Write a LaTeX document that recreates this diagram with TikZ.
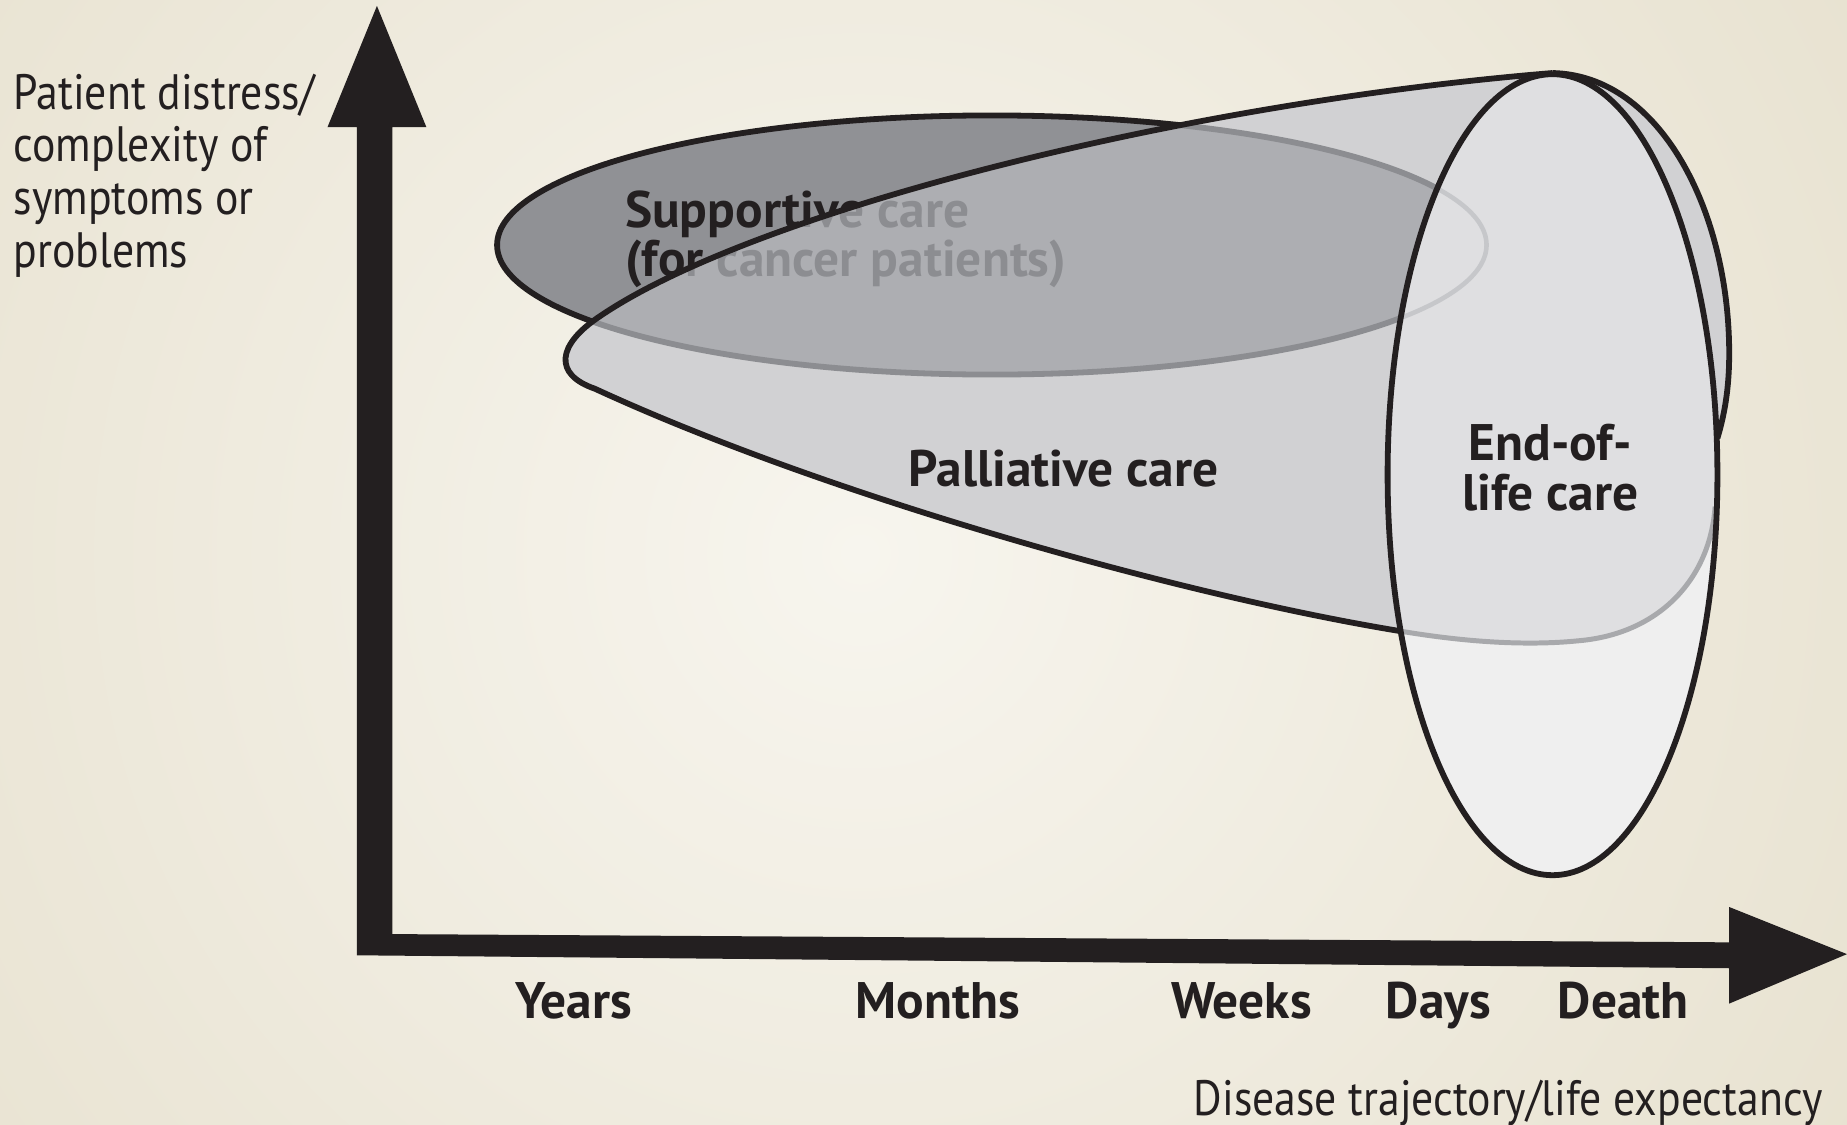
\documentclass[tikz,border=0pt]{standalone}
\usepackage{fontspec}
\setmainfont{PT Sans}
\newfontfamily\axisfont[FakeStretch=0.88]{PT Sans}
\newfontfamily\labfont{PT Sans}
\definecolor{bgedge}{HTML}{E3DCC7}
\definecolor{bgcenter}{HTML}{F7F5EE}
\definecolor{inkblack}{HTML}{231F20}
\definecolor{suppgray}{HTML}{909195}
\definecolor{suppmid}{HTML}{ADAEB2}
\definecolor{suppline}{HTML}{8C8D91}
\definecolor{palgray}{HTML}{D1D1D3}
\definecolor{eolgray}{HTML}{DFDFE1}
\definecolor{eollight}{HTML}{EFEFEF}
\definecolor{palline}{HTML}{A8A9AC}
\definecolor{supplight}{HTML}{C6C7CA}
\tikzset{
  axislab/.style={font=\axisfont\fontsize{12}{12.7}\selectfont, text=inkblack, inner sep=0pt},
  carelab/.style={font=\labfont\bfseries\fontsize{12.4}{12}\selectfont, text=inkblack, inner sep=0pt},
  rimline/.style={line width=1.4pt, draw=inkblack},
}
\newcommand{\palpath}{(1318,62) .. controls (1000,88) and (640,180) .. (510,268) .. controls (472,293) and (470,318) .. (505,330) .. controls (700,420) and (1000,505) .. (1190,536) .. controls (1250,546) and (1300,548) .. (1340,544) .. controls (1410,538) and (1452,490) .. (1456,430) -- (1456,300) .. controls (1450,150) and (1400,62) .. (1318,62) -- cycle}
\newcommand{\suppellipse}{(842,208) ellipse [x radius=420, y radius=110]}
\newcommand{\disc}{(1318,403) ellipse [x radius=140, y radius=340]}
\begin{document}
\begin{tikzpicture}[x=0.01cm, y=-0.01cm]
\useasboundingbox (0,0) rectangle (1568,955);
\fill[bgedge] (0,0) rectangle (1568,955);
\begin{scope}
\clip (0,0) rectangle (1568,955);
\shade[inner color=bgcenter, outer color=bgedge] (730,470) circle (13cm);
\end{scope}
\fill[inkblack] (303,811) -- (303,108) -- (278,108) -- (320,5) -- (362,108) -- (333,108) -- (333,793)
  -- (1468,800) -- (1468,770) -- (1568,810) -- (1468,852) -- (1468,822) -- cycle;
\fill[suppgray] \suppellipse;
\draw[rimline] \suppellipse;
\node[carelab, align=left, anchor=north west] (supp) at (530,161) {Supportive care\\(for cancer patients)};
\fill[palgray] \palpath;
\begin{scope}
\clip \palpath;
\fill[suppmid] \suppellipse;
\draw[rimline, draw=suppline] \suppellipse;
\node[carelab, text=suppline, align=left, anchor=north west] (suppb) at (530,161) {Supportive care\\(for cancer patients)};
\end{scope}
\draw[rimline] (1318,62) .. controls (1000,88) and (640,180) .. (510,268) .. controls (472,293) and (470,318) .. (505,330) .. controls (700,420) and (1000,505) .. (1190,536);
\fill[palgray] (1318,62) .. controls (1410,64) and (1468,180) .. (1468,300) .. controls (1468,330) and (1464,352) .. (1458,372) -- (1318,400) -- cycle;
\draw[rimline] (1318,62) .. controls (1410,64) and (1468,180) .. (1468,300) .. controls (1468,330) and (1464,352) .. (1458,372);
\fill[eollight] \disc;
\begin{scope}
\clip \disc;
\fill[eolgray] \palpath;
\draw[line width=1.1pt, draw=supplight] \suppellipse;
\draw[line width=1.2pt, draw=palline] (505,330) .. controls (700,420) and (1000,505) .. (1190,536) .. controls (1250,546) and (1300,548) .. (1340,544) .. controls (1410,538) and (1452,490) .. (1456,430);
\end{scope}
\draw[rimline] \disc;
\node[carelab, anchor=base] (pal) at (903,413) {Palliative care};
\node[carelab, align=center] (eol) at (1316,397) {End-of-\\life care};
\node[axislab, align=left, anchor=north west] (ylab) at (11,62) {Patient distress/\\complexity of\\symptoms or\\problems};
\node[carelab, anchor=base] (years) at (487,865) {Years};
\node[carelab, anchor=base] (months) at (796,865) {Months};
\node[carelab, anchor=base] (weeks) at (1054,865) {Weeks};
\node[carelab, anchor=base] (days) at (1221,865) {Days};
\node[carelab, anchor=base] (death) at (1378,865) {Death};
\node[axislab, anchor=base east] (xlab) at (1548,947) {Disease trajectory/life expectancy};
\end{tikzpicture}
\end{document}
